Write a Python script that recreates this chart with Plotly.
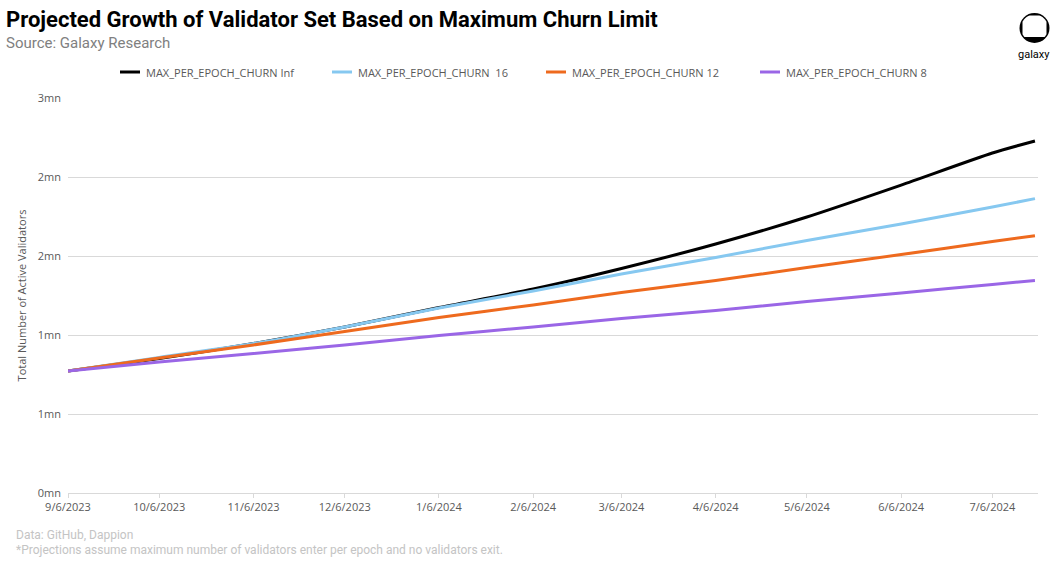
import math
import plotly.graph_objects as go

# ---- data ----
dates = ["2023-09-06", "2023-10-06", "2023-11-06", "2023-12-06", "2024-01-06", "2024-02-06",
         "2024-03-06", "2024-04-06", "2024-05-06", "2024-06-06", "2024-07-06", "2024-07-20"]
churn_inf = [772000, 851000, 946000, 1051000, 1174000, 1291000, 1421000, 1576000, 1747000, 1949000, 2152000, 2228000]
churn_16 = [772000, 858000, 946000, 1051000, 1171000, 1278000, 1386000, 1491000, 1598000, 1703000, 1810000, 1863000]
churn_12 = [772000, 854000, 937000, 1022000, 1111000, 1190000, 1269000, 1345000, 1427000, 1509000, 1592000, 1628000]
churn_8 = [772000, 829000, 883000, 937000, 997000, 1051000, 1104000, 1155000, 1212000, 1266000, 1320000, 1345000]

series_names = ["MAX_PER_EPOCH_CHURN Inf", "MAX_PER_EPOCH_CHURN  16",
                "MAX_PER_EPOCH_CHURN 12", "MAX_PER_EPOCH_CHURN 8"]
series_colors = ["#000000", "#86C8F0", "#EE6A1E", "#9A66E6"]

x_tickvals = ["2023-09-06", "2023-10-06", "2023-11-06", "2023-12-06", "2024-01-06", "2024-02-06",
              "2024-03-06", "2024-04-06", "2024-05-06", "2024-06-06", "2024-07-06"]
x_ticktext = ["9/6/2023", "10/6/2023", "11/6/2023", "12/6/2023", "1/6/2024", "2/6/2024",
              "3/6/2024", "4/6/2024", "5/6/2024", "6/6/2024", "7/6/2024"]
y_tickvals = [0, 500000, 1000000, 1500000, 2000000, 2500000]
y_ticktext = ["0mn", "1mn", "1mn", "2mn", "2mn", "3mn"]

W, H = 1059, 564
L, R, T, B = 68, 21, 98, 71
PW, PH = W - L - R, H - T - B


def px_to_paper(px, py):
    return (px - L) / PW, 1 - (py - T) / PH


fig = go.Figure()
for name, ys, col in zip(series_names, [churn_inf, churn_16, churn_12, churn_8], series_colors):
    fig.add_trace(go.Scatter(x=dates, y=ys, mode="lines", name=name,
                             line=dict(color=col, width=3, shape="spline", smoothing=0.6),
                             showlegend=False))

TICKFONT = dict(family="Open Sans, Liberation Sans", size=11, color="#595959")
BRAND = "Roboto, sans-serif"

fig.update_layout(
    width=W, height=H,
    margin=dict(l=L, r=R, t=T, b=B, autoexpand=False),
    paper_bgcolor="white", plot_bgcolor="white",
    showlegend=False,
    xaxis=dict(type="date", range=["2023-09-06", "2024-07-21"], tickvals=x_tickvals,
               ticktext=x_ticktext, showgrid=False, showline=True, linecolor="#d9d9d9",
               linewidth=1, ticks="outside", ticklen=4, tickcolor="#d9d9d9",
               tickfont=TICKFONT, zeroline=False),
    yaxis=dict(range=[0, 2500000], tickvals=y_tickvals, ticktext=y_ticktext,
               showgrid=True, gridcolor="#d9d9d9", gridwidth=1, zeroline=False,
               showline=False, tickfont=TICKFONT, ticklabelstandoff=6,
               title=dict(text="Total Number of Active Validators",
                          font=dict(family="Open Sans, Liberation Sans", size=11, color="#595959"),
                          standoff=8)),
)

# manual legend (one row, as in the reference)
leg_x = [120, 332, 546, 760]
leg_y = 72
for lx, name, col in zip(leg_x, series_names, series_colors):
    ax0, ay = px_to_paper(lx, leg_y)
    ax1, _ = px_to_paper(lx + 20, leg_y)
    fig.add_shape(type="line", xref="paper", yref="paper", x0=ax0, x1=ax1, y0=ay, y1=ay,
                  line=dict(color=col, width=3))
    tx, _ = px_to_paper(lx + 24, leg_y)
    fig.add_annotation(text=name.replace("  ", "&nbsp; "), xref="paper", yref="paper", x=tx, y=ay,
                       xanchor="left", yanchor="middle", showarrow=False, font=TICKFONT)

# Title, subtitle, footnotes
def add_text(text, px, py, size, color, anchor="left"):
    ax, ay = px_to_paper(px, py)
    fig.add_annotation(text=text, xref="paper", yref="paper", x=ax, y=ay,
                       xanchor=anchor, yanchor="middle", showarrow=False,
                       font=dict(family=BRAND, size=size, color=color))

add_text("<b>Projected Growth of Validator Set Based on Maximum Churn Limit</b>", 4, 19, 22, "#000000")
add_text("Source: Galaxy Research", 4, 43, 15, "#808080")
add_text("Data: GitHub, Dappion", 14, 535, 12, "#C4C4C4")
add_text("*Projections assume maximum number of validators enter per epoch and no validators exit.",
         14, 550, 12, "#C4C4C4")

# Galaxy logo (decoration)
cx, cy, r = 1034.5, 28, 15
x0, y0 = px_to_paper(cx - r, cy - r)
x1, y1 = px_to_paper(cx + r, cy + r)
fig.add_shape(type="circle", xref="paper", yref="paper", x0=x0, y0=y1, x1=x1, y1=y0,
              fillcolor="black", line=dict(width=0))
ri = 13.5
half = 12
top, bottom = cy - 12.5, cy + 9
pts = []
for k in range(0, 360, 3):
    a = math.radians(k)
    px = cx + ri * math.cos(a)
    py = cy + ri * math.sin(a)
    px = max(min(px, cx + half), cx - half)
    py = max(min(py, bottom), top)
    pts.append(px_to_paper(px, py))
path = "M " + " L ".join(f"{p[0]:.5f},{p[1]:.5f}" for p in pts) + " Z"
fig.add_shape(type="path", xref="paper", yref="paper", path=path,
              fillcolor="white", line=dict(width=0))
add_text("galaxy", 1034, 54, 11, "#000000", anchor="center")

fig.write_html("out.html")
